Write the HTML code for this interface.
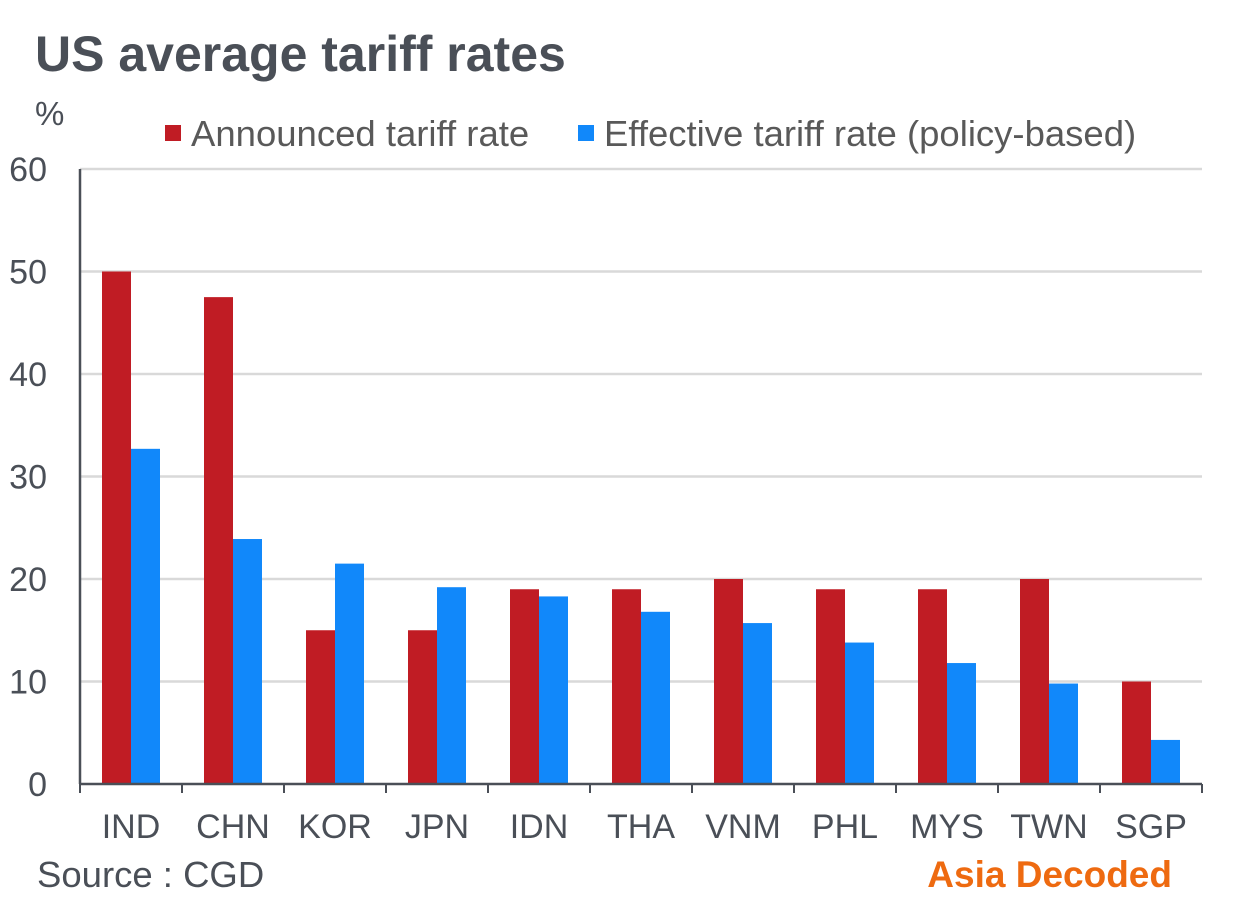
<!DOCTYPE html>
<html><head><meta charset="utf-8"><style>
body{margin:0;background:#fff;width:1244px;height:912px;overflow:hidden;font-family:"Liberation Sans",Arial,sans-serif}
</style></head><body>
<svg width="1244" height="912" viewBox="0 0 1244 912" xmlns="http://www.w3.org/2000/svg" font-family="Liberation Sans, Arial, sans-serif">
<text x="35" y="71" font-size="50" font-weight="bold" fill="#4a4f57">US average tariff rates</text>
<text x="35" y="125" font-size="33" fill="#4a4f57">%</text>
<g>
<rect x="165" y="125" width="16" height="16" fill="#C01C24"/>
<text x="191" y="146" font-size="36.5" fill="#595959">Announced tariff rate</text>
<rect x="578" y="125" width="16" height="16" fill="#1188FA"/>
<text x="604" y="146" font-size="36.5" fill="#595959">Effective tariff rate (policy-based)</text>
</g>
<g id="grid"></g>
<g id="bars"></g>
<g id="axes"></g>
<text x="37" y="887" font-size="36.5" fill="#4a4f57">Source : CGD</text>
<text x="1172" y="887" font-size="37" font-weight="bold" fill="#EE6A10" text-anchor="end">Asia Decoded</text>
</svg>
<script>
const categories=["IND","CHN","KOR","JPN","IDN","THA","VNM","PHL","MYS","TWN","SGP"];
const announced=[50,47.5,15,15,19,19,20,19,19,20,10];
const effective=[32.7,23.9,21.5,19.2,18.3,16.8,15.7,13.8,11.8,9.8,4.3];
const yTicks=[0,10,20,30,40,50,60];
const NS="http://www.w3.org/2000/svg";
const x0=80,x1=1202,yTop=169,yBot=784,yMax=60;
const band=(x1-x0)/categories.length;
const y=v=>yBot-(v/yMax)*(yBot-yTop);
const xc=i=>x0+band*(i+0.5);
function mk(tag,attrs,parent,text){const e=document.createElementNS(NS,tag);for(const k in attrs)e.setAttribute(k,attrs[k]);if(text!=null)e.textContent=text;document.getElementById(parent).appendChild(e);return e;}
yTicks.forEach(t=>{
 if(t>0){const g=mk('line',{x1:x0,x2:x1,y1:y(t),y2:y(t),stroke:'#d9d9d9','stroke-width':2.5},'grid');
 
 }
 const l=mk('text',{x:47,y:y(t)+12,'font-size':34,fill:'#4a4f57','text-anchor':'end'},'axes',String(t));
 
 
});
const bw=29;
categories.forEach((c,i)=>{
 const r=mk('rect',{x:xc(i)-bw,y:y(announced[i]),width:bw,height:yBot-y(announced[i]),fill:'#C01C24'},'bars');
 
 
 const b=mk('rect',{x:xc(i),y:y(effective[i]),width:bw,height:yBot-y(effective[i]),fill:'#1188FA'},'bars');
 
 
 const t=mk('text',{x:xc(i),y:838,'font-size':34,fill:'#4a4f57','text-anchor':'middle'},'axes',c);
 
 
});
for(let i=0;i<=categories.length;i++){
 const tk=mk('line',{x1:x0+band*i,x2:x0+band*i,y1:yBot,y2:yBot+9,stroke:'#4a4f57','stroke-width':2},'axes');
 
 
}
const ya=mk('line',{x1:x0,x2:x0,y1:yTop,y2:yBot,stroke:'#4a4f57','stroke-width':2.5},'axes');


const xa=mk('line',{x1:x0,x2:x1,y1:yBot,y2:yBot,stroke:'#4a4f57','stroke-width':2.5},'axes');


</script>
</body></html>
